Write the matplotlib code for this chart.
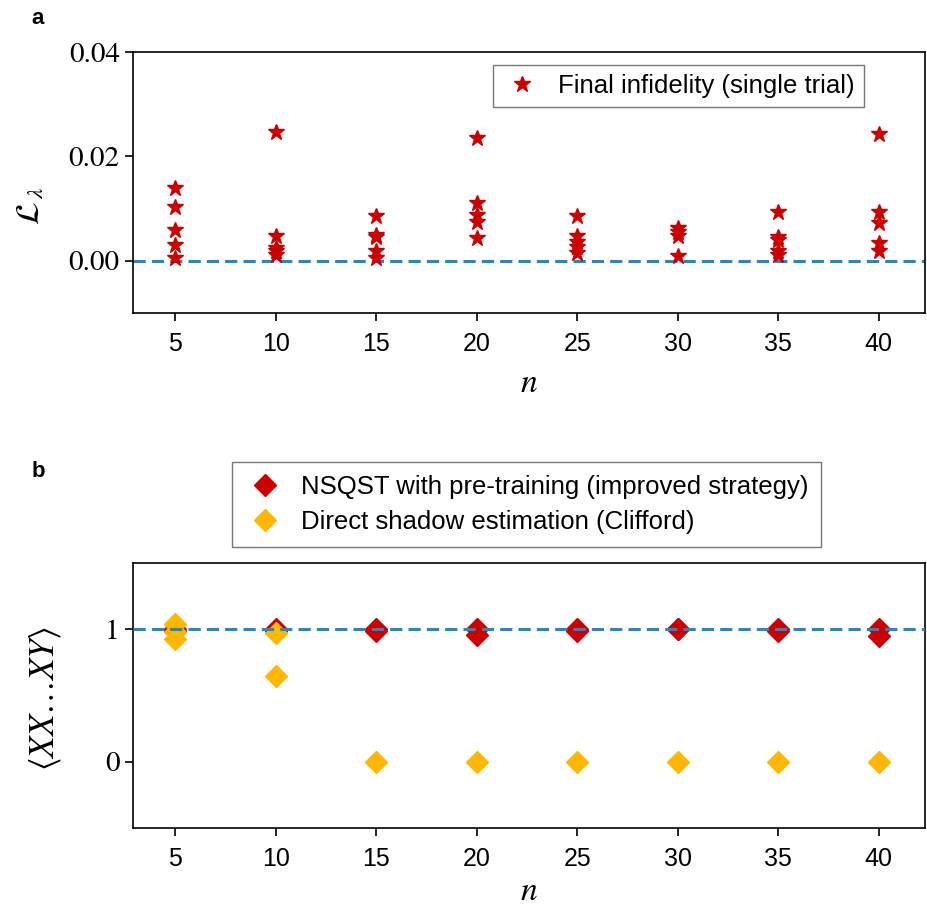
import matplotlib.pyplot as plt

plt.rcParams['mathtext.fontset'] = 'stix'
plt.rcParams['font.family'] = 'Liberation Sans'

# panel a: final infidelity per system size (single trials)
n_values = [5, 10, 15, 20, 25, 30, 35, 40]
infidelity = [
    [0.0139, 0.0104, 0.0059, 0.0031, 0.0005],
    [0.0246, 0.0047, 0.0025, 0.0018, 0.0012],
    [0.0085, 0.0049, 0.0045, 0.0018, 0.0006],
    [0.0235, 0.0111, 0.0088, 0.0075, 0.0043],
    [0.0086, 0.0047, 0.0037, 0.0027, 0.0015],
    [0.0063, 0.0055, 0.0047, 0.0010],
    [0.0094, 0.0045, 0.0040, 0.0018, 0.0012],
    [0.0243, 0.0094, 0.0072, 0.0034, 0.0018],
]

# panel b: <XX...XY> estimates
nsqst = [
    [1.00, 0.99],
    [1.00, 0.99],
    [1.00, 0.99],
    [1.00, 0.96],
    [1.00, 0.99],
    [1.00, 1.00],
    [1.00, 0.99],
    [1.00, 0.95],
]
shadow = [
    [1.04, 0.98, 0.93],
    [0.97, 0.65],
    [0.0],
    [0.0],
    [0.0],
    [0.0],
    [0.0],
    [0.0],
]

red = '#cc0000'
orange = '#ffb703'
blue = '#2189c4'

fig = plt.figure(figsize=(9.28, 9.11), dpi=100)
ax1 = fig.add_axes([0.1433, 0.6564, 0.8535, 0.2865])
ax2 = fig.add_axes([0.1433, 0.0911, 0.8535, 0.2909])

# --- panel a ---
ax1.axhline(0, color=blue, ls=(0, (4, 2)), lw=2.2, zorder=1)
for i, n in enumerate(n_values):
    vals = infidelity[i]
    ax1.plot([n] * len(vals), vals, ls='none', marker='*', ms=12, color=red,
             label='Final infidelity (single trial)' if i == 0 else None, zorder=3)
ax1.set_xlim(2.9, 42.3)
ax1.set_ylim(-0.01, 0.04)
ax1.set_yticks([0.0, 0.02, 0.04])
ax1.set_yticklabels(['0.00', '0.02', '0.04'])
ax1.set_xticks(n_values)
ax1.set_xlabel(r'$n$', fontsize=24, labelpad=8)
ax1.set_ylabel(r'$\mathcal{L}_{\,\lambda}$', fontsize=24)
ax1.yaxis.set_label_coords(-0.130, 0.41)
ax1.yaxis.label.set_va('center')
ax1.legend(loc='upper right', bbox_to_anchor=(0.923, 0.950), fontsize=18.5,
           fancybox=False, edgecolor='#555555', handletextpad=0.6,
           borderpad=0.35, handlelength=1.6, borderaxespad=0)

# --- panel b ---
ax2.axhline(1, color=blue, ls=(0, (4, 2)), lw=2.2, zorder=4)
for i, n in enumerate(n_values):
    ax2.plot([n] * len(nsqst[i]), nsqst[i], ls='none', marker='D', ms=11,
             color=red, label='NSQST with pre-training (improved strategy)' if i == 0 else None,
             zorder=2)
for i, n in enumerate(n_values):
    ax2.plot([n] * len(shadow[i]), shadow[i], ls='none', marker='D', ms=11,
             color=orange, label='Direct shadow estimation (Clifford)' if i == 0 else None,
             zorder=3)
ax2.set_xlim(2.9, 42.3)
ax2.set_ylim(-0.5, 1.5)
ax2.set_yticks([0, 1])
ax2.set_xticks(n_values)
ax2.set_xlabel(r'$n$', fontsize=24, labelpad=3)
ax2.set_ylabel(r'$\langle XX\ldots XY\rangle$', fontsize=25)
ax2.yaxis.set_label_coords(-0.111, 0.49)
ax2.yaxis.label.set_va('center')
ax2.legend(loc='lower center', bbox_to_anchor=(0.497, 1.06), fontsize=18.5,
           fancybox=False, edgecolor='#555555', handletextpad=0.6,
           borderpad=0.5, handlelength=1.6, labelspacing=0.45, borderaxespad=0)

for ax in (ax1, ax2):
    ax.tick_params(axis='both', direction='out', length=6, width=1.2)
    ax.tick_params(axis='x', labelsize=18, pad=8)
    for lab in ax.get_yticklabels():
        lab.set_fontfamily('STIXGeneral')
        lab.set_fontsize(21)
    for sp in ax.spines.values():
        sp.set_linewidth(1.2)

fig.text(0.034, 0.980, 'a', fontsize=16, fontweight='bold', va='center', ha='left')
fig.text(0.034, 0.482, 'b', fontsize=16, fontweight='bold', va='center', ha='left')

fig.savefig('out.png', dpi=100)
